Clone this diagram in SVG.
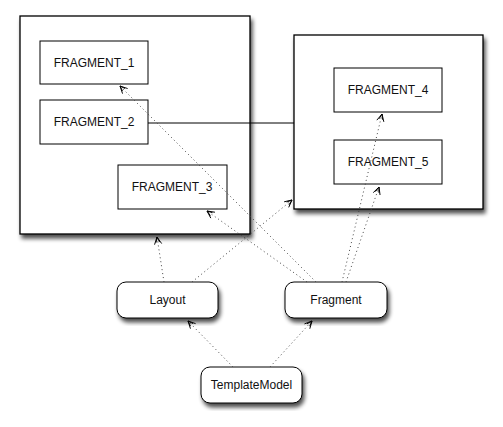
<svg xmlns="http://www.w3.org/2000/svg" width="503" height="427" viewBox="0 0 503 427">
<style>
.box{fill:#fff;stroke:#000;stroke-width:1}
.cont{fill:#fff;stroke:#000;stroke-width:1.3}
.txt{font-family:"Liberation Sans",Arial,sans-serif;font-size:12px;fill:#111;text-anchor:middle}
.dep{fill:none;stroke:#444;stroke-width:1;stroke-dasharray:1,3;marker-end:url(#arr)}
.solid{fill:none;stroke:#000;stroke-width:1}
</style>
<defs>
<filter id="sh" x="-10%" y="-10%" width="130%" height="130%">
<feGaussianBlur in="SourceAlpha" stdDeviation="2"/>
<feOffset dx="2" dy="4" result="b"/>
<feComponentTransfer><feFuncA type="linear" slope="0.7"/></feComponentTransfer>
<feMerge><feMergeNode/><feMergeNode in="SourceGraphic"/></feMerge>
</filter>
<marker id="arr" viewBox="0 0 10 10" refX="9" refY="5" markerWidth="9" markerHeight="9" orient="auto" markerUnits="userSpaceOnUse">
<path d="M1,1 L9,5 L1,9 M3,3 L9,5 L3,7" fill="none" stroke="#000" stroke-width="1"/>
</marker>
</defs>
<g id="container-left"><rect class="cont" x="20" y="16" width="230" height="218" filter="url(#sh)"/></g>
<g id="container-right"><rect class="cont" x="294" y="35" width="189" height="174" filter="url(#sh)"/></g>
<g id="fragment-1"><rect class="box" x="40" y="41" width="108" height="43"/><text class="txt" x="94" y="67">FRAGMENT_1</text></g>
<g id="fragment-2"><rect class="box" x="40" y="100" width="108" height="44"/><text class="txt" x="94" y="126">FRAGMENT_2</text></g>
<g id="fragment-3"><rect class="box" x="118" y="165" width="109" height="44"/><text class="txt" x="172" y="191">FRAGMENT_3</text></g>
<g id="fragment-4"><rect class="box" x="334" y="68" width="108" height="44"/><text class="txt" x="388" y="94">FRAGMENT_4</text></g>
<g id="fragment-5"><rect class="box" x="334" y="140" width="108" height="44"/><text class="txt" x="388" y="166">FRAGMENT_5</text></g>
<g id="layout"><rect class="box" x="117" y="282" width="101" height="36" rx="9" filter="url(#sh)"/><text class="txt" x="167.5" y="304">Layout</text></g>
<g id="fragment"><rect class="box" x="285" y="282" width="102" height="36" rx="9" filter="url(#sh)"/><text class="txt" x="336" y="304">Fragment</text></g>
<g id="templatemodel"><rect class="box" x="201" y="367" width="101" height="36" rx="9" filter="url(#sh)"/><text class="txt" x="251.5" y="389">TemplateModel</text></g>
<g id="connectors">
<path class="solid" d="M148,123 L294,123"/>
<path class="dep" d="M164,282 L157,237"/>
<path class="dep" d="M192,282 L292,200"/>
<path class="dep" d="M307,282 L207,211"/>
<path class="dep" d="M316,282 L120,86"/>
<path class="dep" d="M342,282 L382,114"/>
<path class="dep" d="M346,282 L379,187"/>
<path class="dep" d="M233,367 L188,321"/>
<path class="dep" d="M270,367 L312,321"/>
</g>
</svg>
